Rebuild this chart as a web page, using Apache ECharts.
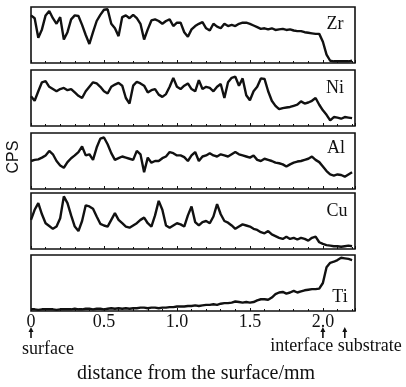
<!DOCTYPE html>
<html>
<head>
<meta charset="utf-8">
<script src="https://cdn.jsdelivr.net/npm/echarts@6/dist/echarts.min.js"></script>
<style>
  html, body { margin: 0; background: #fff; }
  #chart { width: 406px; height: 387px; }
</style>
</head>
<body>
<div id="chart"></div>
<script>
// depth step between samples, mm
const step = 0.025;

// relative counts per element (0 = panel floor, 100 = panel top)
const zr = [85, 80, 45, 60, 85, 93, 80, 70, 82, 42, 55, 78, 85, 84, 68, 50, 34, 55, 75, 86,
  95, 96, 70, 62, 48, 82, 85, 80, 86, 80, 70, 42, 60, 76, 78, 75, 70, 75, 78, 66,
  72, 72, 55, 47, 60, 66, 70, 73, 62, 58, 70, 65, 62, 70, 66, 68, 66, 70, 72, 72,
  70, 67, 64, 61, 62, 60, 62, 59, 60, 61, 59, 60, 58, 57, 57, 55, 54, 53, 52, 52,
  38, 15, 4, 3, 3, 3, 3, 3, 4];
const ni = [53, 45, 62, 78, 80, 70, 66, 62, 66, 68, 64, 66, 60, 54, 50, 62, 70, 78, 76, 70,
  62, 58, 70, 74, 77, 72, 50, 40, 72, 79, 76, 72, 60, 64, 66, 56, 52, 57, 70, 86,
  70, 66, 72, 76, 66, 62, 82, 66, 70, 68, 62, 70, 75, 50, 78, 86, 88, 72, 85, 55,
  46, 62, 70, 85, 84, 62, 45, 36, 30, 32, 33, 34, 36, 38, 44, 40, 42, 45, 50, 38,
  28, 20, 10, 16, 15, 13, 16, 15, 14];
const al = [50, 52, 53, 56, 60, 68, 62, 50, 42, 38, 48, 55, 60, 66, 76, 60, 62, 52, 74, 90,
  92, 80, 64, 52, 55, 58, 56, 54, 52, 68, 62, 30, 56, 47, 50, 50, 55, 58, 66, 64,
  60, 60, 57, 50, 60, 66, 50, 58, 60, 64, 60, 58, 62, 60, 58, 62, 66, 62, 60, 58,
  56, 60, 52, 50, 54, 52, 50, 47, 46, 44, 40, 44, 47, 49, 50, 52, 54, 58, 52, 48,
  40, 32, 26, 24, 26, 25, 22, 26, 30];
const cu = [52, 70, 82, 62, 46, 41, 36, 40, 55, 94, 82, 60, 40, 32, 50, 78, 76, 72, 58, 45,
  42, 40, 52, 64, 52, 46, 40, 38, 42, 46, 52, 56, 46, 40, 60, 86, 70, 42, 38, 42,
  46, 44, 40, 60, 76, 48, 42, 48, 50, 46, 58, 80, 62, 50, 47, 42, 36, 40, 44, 42,
  40, 36, 34, 30, 28, 32, 26, 23, 20, 18, 22, 18, 20, 17, 20, 18, 15, 20, 22, 12,
  9, 7, 6, 5, 5, 4, 5, 6, 5];
const ti = [3, 3, 2, 3, 3, 3, 3, 2, 3, 3, 3, 3, 4, 3, 3, 4, 4, 3, 4, 4,
  3, 4, 5, 4, 5, 4, 5, 4, 5, 5, 6, 6, 5, 6, 6, 5, 6, 6, 7, 7,
  8, 8, 8, 9, 9, 10, 9, 10, 11, 11, 12, 11, 13, 14, 14, 15, 17, 16, 15, 16,
  15, 16, 19, 21, 21, 20, 24, 30, 33, 34, 31, 33, 36, 33, 35, 37, 38, 39, 39, 40,
  50, 78, 86, 88, 91, 95, 94, 93, 91];

const elements = ['Zr', 'Ni', 'Al', 'Cu', 'Ti'];
const profiles = [zr, ni, al, cu, ti];
const xTicks = [0, 0.5, 1.0, 1.5, 2.0];
const tickLabels = ['0', '0.5', '1.0', '1.5', '2.0'];
const markers = [0, 2.0, 2.15]; // surface, interface, substrate

const font = '"Liberation Serif", "DejaVu Serif", serif';
const ink = '#111';

const panelTops = [7, 70, 133, 193, 255];
const panelHeight = 56;
const labelPos = [[335, 24], [335, 88], [336, 148], [337, 211], [340, 297]];

const chart = echarts.init(document.getElementById('chart'));

const grids = panelTops.map((top) => ({
  left: 31, right: 51, top: top, height: panelHeight,
  show: true, borderColor: ink, borderWidth: 1.6, backgroundColor: 'transparent',
}));

const xAxes = panelTops.map((_, i) => ({
  type: 'value', gridIndex: i, min: 0, max: 2.22, interval: 0.5,
  axisLine: { show: false },
  axisTick: { show: true, inside: true, length: 3, lineStyle: { color: ink } },
  minorTick: { show: true, splitNumber: 5, length: 2, lineStyle: { color: ink } },
  splitLine: { show: false },
  axisLabel: {
    show: i === panelTops.length - 1,
    margin: 2, color: ink, fontFamily: font, fontSize: 18,
    showMaxLabel: false,
    formatter: (v) => {
      const k = xTicks.findIndex((t) => Math.abs(t - v) < 1e-6);
      return k >= 0 ? tickLabels[k] : '';
    },
  },
}));

const yAxes = panelTops.map((_, i) => ({
  type: 'value', gridIndex: i, min: 0, max: 100, show: false,
}));

const series = profiles.map((vals, i) => ({
  type: 'line', xAxisIndex: i, yAxisIndex: i,
  data: vals.map((v, k) => [k * step, v]),
  showSymbol: false, silent: true,
  lineStyle: { color: ink, width: 2.4 },
}));

chart.setOption({
  animation: false,
  grid: grids, xAxis: xAxes, yAxis: yAxes, series: series,
});

// annotations: element names, axis titles, arrows
const graphic = elements.map((name, i) => ({
  type: 'text', x: labelPos[i][0], y: labelPos[i][1],
  style: { text: name, font: '18px ' + font, fill: ink, align: 'center', verticalAlign: 'middle' },
}));

graphic.push({
  type: 'text', x: 14, y: 157, rotation: Math.PI / 2,
  style: { text: 'CPS', font: '16px "Liberation Sans", Arial, sans-serif', fill: ink, align: 'center', verticalAlign: 'middle' },
});
graphic.push({
  type: 'text', x: 48, y: 349,
  style: { text: 'surface', font: '18px ' + font, fill: ink, align: 'center', verticalAlign: 'middle' },
});
graphic.push({
  type: 'text', x: 336, y: 346,
  style: { text: 'interface substrate', font: '18px ' + font, fill: ink, align: 'center', verticalAlign: 'middle' },
});
graphic.push({
  type: 'text', x: 196, y: 374,
  style: { text: 'distance from the surface/mm', font: '20px ' + font, fill: ink, align: 'center', verticalAlign: 'middle' },
});

markers.forEach((d) => {
  const x = chart.convertToPixel({ xAxisIndex: 4 }, d);
  const y0 = 327;
  graphic.push({
    type: 'line', shape: { x1: x, y1: y0 + 2, x2: x, y2: y0 + 11 },
    style: { stroke: ink, lineWidth: 1.6 },
  });
  graphic.push({
    type: 'polygon', shape: { points: [[x - 2.5, y0 + 5], [x, y0], [x + 2.5, y0 + 5]] },
    style: { fill: ink },
  });
});

chart.setOption({ graphic: graphic });
</script>
</body>
</html>
